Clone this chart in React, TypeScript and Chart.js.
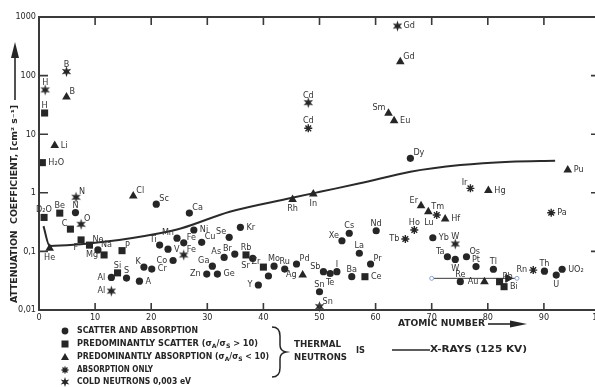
import React, { useEffect, useRef } from "react";
import { Chart, registerables } from "chart.js";

Chart.register(...registerables);

const FONT = '"DejaVu Sans Condensed", "Liberation Sans Narrow", "Liberation Sans", Arial, sans-serif';
const INK = "#262626";

// ---------- axis ticks ----------
const yTickValues = [0.01, 0.1, 1, 10, 100, 1000];
const yTickLabels = ["0,01", "0,1", "1", "10", "100", "1000"];
const innerTicksX = [10, 20, 30, 40, 50, 60, 70, 80, 90];
const innerTicksY = [0.1, 1, 10, 100];

// ---------- scatter and absorption (circles) ----------
const mixedLabels = ["N", "Na", "Al", "S", "A", "K", "Cr", "Sc", "Ca", "Ti", "V", "Co", "Mn", "Fe", "Ni", "Cu", "Zn", "Ga", "Ge", "As", "Se", "Br", "Kr", "Sr", "Y", "", "Mo", "Ru", "Pd", "Sn", "Sb", "Te", "I", "Xe", "Cs", "Ba", "La", "Pr", "Nd", "Dy", "Yb", "Ta", "W", "Os", "Pt", "Tl", "Re", "Th", "U", "UO₂"];
const mixedZ = [6.5, 10.5, 12.9, 15.6, 17.9, 18.7, 20.1, 20.9, 26.8, 21.5, 23.0, 23.9, 24.6, 25.8, 27.6, 29.0, 29.9, 30.9, 31.8, 33.0, 33.9, 34.9, 35.9, 38.1, 39.1, 40.9, 41.9, 43.8, 45.9, 50.0, 50.7, 51.9, 53.1, 54.0, 55.3, 55.75, 57.1, 59.1, 60.1, 66.2, 70.2, 72.8, 74.2, 76.2, 77.9, 81.0, 75.1, 90.1, 92.2, 93.25];
const mixedCoef = [0.46, 0.106, 0.036, 0.035, 0.031, 0.054, 0.05, 0.64, 0.45, 0.128, 0.109, 0.07, 0.168, 0.14, 0.232, 0.143, 0.041, 0.056, 0.041, 0.079, 0.174, 0.09, 0.258, 0.076, 0.0267, 0.038, 0.056, 0.05, 0.061, 0.0205, 0.045, 0.042, 0.045, 0.152, 0.204, 0.037, 0.093, 0.061, 0.225, 3.88, 0.171, 0.081, 0.073, 0.081, 0.055, 0.0496, 0.0304, 0.046, 0.0395, 0.0496];

// ---------- predominantly scatter (squares) ----------
const scatterLabels = ["H", "H₂O", "D₂O", "Be", "C", "F", "Ne", "Mg", "P", "Si", "Rb", "Zr", "Ce", "Pb", "Bi"];
const scatterZ = [1.0, 0.6, 0.9, 3.7, 5.6, 7.5, 9.0, 11.6, 14.8, 14.0, 36.9, 40.0, 58.1, 82.1, 82.9];
const scatterCoef = [23, 3.27, 0.38, 0.45, 0.24, 0.157, 0.128, 0.087, 0.103, 0.043, 0.087, 0.054, 0.037, 0.0304, 0.025];

// ---------- predominantly absorption (triangles) ----------
const absorbLabels = ["He", "Li", "B", "Cl", "Rh", "In", "Ag", "Sm", "Eu", "Gd", "Er", "Tm", "Hf", "Au", "Hg", "Pu"];
const absorbZ = [1.9, 2.8, 4.9, 16.8, 45.2, 48.9, 47.0, 62.3, 63.3, 64.4, 68.1, 69.4, 72.4, 79.4, 80.1, 94.25];
const absorbCoef = [0.113, 6.4, 43, 0.88, 0.77, 0.95, 0.0395, 22.8, 17, 173, 0.6, 0.475, 0.357, 0.0304, 1.09, 2.45];

// ---------- absorption only (asterisks) ----------
const onlyLabels = ["Cd", "Tb", "Ho", "Lu", "Ir", "Pa", "Rn"];
const onlyZ = [48.0, 65.3, 66.9, 70.9, 76.9, 91.3, 88.1];
const onlyCoef = [12.6, 0.163, 0.232, 0.418, 1.19, 0.457, 0.048];

// ---------- cold neutrons 0,003 eV (stars) ----------
const coldLabels = ["H", "B", "N", "O", "Al", "Fe", "Cd", "Gd", "Sn", "W"];
const coldZ = [1.1, 4.9, 6.6, 7.5, 12.9, 25.8, 48.0, 63.9, 50.0, 74.2];
const coldCoef = [57, 117, 0.84, 0.29, 0.021, 0.087, 34.5, 701, 0.0114, 0.134];

// ---------- X-rays (125 kV) curve ----------
const xrayZ = [0.8, 1.9, 12, 21.5, 25.4, 34, 44.7, 50.1, 57.2, 66.2, 75.1, 84, 92];
const xrayCoef = [0.27, 0.124, 0.147, 0.204, 0.248, 0.475, 0.805, 1.04, 1.45, 2.29, 2.98, 3.4, 3.53];

// ---------- thin arrow line near Pb/Bi ----------
const arrowZ = [70, 83.6, 85.2];
const arrowCoef = [0.0347, 0.0347, 0.0347];

// ---------- label placement (style only) ----------
const mixedPlace: Record<string, string> = { N: "n", Al: "w", S: "n", A: "e", K: "nw", Cr: "e", Ti: "nw", V: "e", Co: "w", Mn: "nw", Ni: "e", Zn: "w", Ga: "nw", Ge: "e", As: "nw", Se: "nw", Br: "nw", Kr: "e", Sr: "sw", Y: "w", Mo: "n", Ru: "n", Sn: "n", Sb: "nw", Te: "s", I: "n", Xe: "nw", Cs: "n", Ba: "n", La: "n", Nd: "n", Yb: "e", Ta: "nw", W: "s", Pt: "n", Tl: "n", Re: "n", Th: "n", U: "s", "UO₂": "e" };
const scatterPlace: Record<string, string> = { H: "n", "H₂O": "e", "D₂O": "n", Be: "n", C: "nw", F: "sw", Mg: "w", Si: "n", Rb: "n", Zr: "nw", Ce: "e", Bi: "e" };
const absorbPlace: Record<string, string> = { He: "s", Li: "e", Rh: "s", In: "s", Ag: "w", Sm: "nw", Eu: "e", Er: "nw", Hf: "e", Au: "w", Hg: "e", Pu: "e" };
const onlyPlace: Record<string, string> = { Cd: "n", Tb: "w", Ho: "n", Lu: "sw", Ir: "nw", Pa: "e", Rn: "w" };
const coldPlace: Record<string, string> = { H: "n", B: "n", Al: "w", Cd: "n", Gd: "e", W: "n" };

function drawStar(g: CanvasRenderingContext2D, cx: number, cy: number, r: number) {
  g.beginPath();
  for (let k = 0; k < 12; k++) {
    const a = -Math.PI / 2 + (k * Math.PI) / 6;
    const rr = k % 2 === 0 ? r : r * 0.42;
    g.lineTo(cx + rr * Math.cos(a), cy + rr * Math.sin(a));
  }
  g.closePath();
  g.fillStyle = INK;
  g.fill();
}

function makeStar(r: number): HTMLCanvasElement {
  const c = document.createElement("canvas");
  const s = Math.ceil(r * 2 + 2);
  c.width = s;
  c.height = s;
  drawStar(c.getContext("2d")!, s / 2, s / 2, r);
  return c;
}

function zip(xs: number[], ys: number[]) {
  return xs.map((x, i) => ({ x, y: ys[i] }));
}

type Seg = [string, boolean];
function drawRich(ctx: CanvasRenderingContext2D, segs: Seg[], x: number, y: number, width: number, size: number) {
  const big = `bold ${size}px ${FONT}`;
  const small = `bold ${Math.round(size * 0.7)}px ${FONT}`;
  let total = 0;
  const ws = segs.map(([t, sub]) => {
    ctx.font = sub ? small : big;
    const w = ctx.measureText(t).width;
    total += w;
    return w;
  });
  ctx.save();
  ctx.translate(x, y);
  ctx.scale(width / total, 1);
  ctx.textAlign = "left";
  ctx.textBaseline = "middle";
  let cx = 0;
  segs.forEach(([t, sub], i) => {
    ctx.font = sub ? small : big;
    ctx.fillText(t, cx, sub ? size * 0.3 : 0);
    cx += ws[i];
  });
  ctx.restore();
}

const labelSets = [
  { labels: mixedLabels, place: mixedPlace },
  { labels: scatterLabels, place: scatterPlace },
  { labels: absorbLabels, place: absorbPlace },
  { labels: onlyLabels, place: onlyPlace },
  { labels: coldLabels, place: coldPlace },
];

function drawFrame(chart: any) {
  const { ctx, chartArea: a, scales } = chart;
  const xs = scales.x;
  const ys = scales.y;
  ctx.save();
  ctx.strokeStyle = "#3a3a3a";
  ctx.lineWidth = 2;
  ctx.beginPath();
  ctx.moveTo(a.right, a.top);
  ctx.lineTo(a.left, a.top);
  ctx.lineTo(a.left, a.bottom);
  ctx.lineTo(a.right, a.bottom);
  ctx.lineTo(a.right, a.top);
  ctx.stroke();
  ctx.lineWidth = 1.6;
  ctx.beginPath();
  innerTicksX.forEach((v) => {
    const px = xs.getPixelForValue(v);
    ctx.moveTo(px, a.bottom);
    ctx.lineTo(px, a.bottom - 7);
    ctx.moveTo(px, a.top);
    ctx.lineTo(px, a.top + 8);
  });
  innerTicksY.forEach((v) => {
    const py = ys.getPixelForValue(v);
    ctx.moveTo(a.left, py);
    ctx.lineTo(a.left + 9, py);
    ctx.moveTo(a.right, py);
    ctx.lineTo(a.right - 9, py);
  });
  ctx.stroke();
  ctx.restore();
}

const annotate = {
  id: "annotate",
  afterDatasetsDraw(chart: any) {
    const { ctx } = chart;
    drawFrame(chart);
    ctx.save();
    ctx.fillStyle = "#333333";
    ctx.font = `9px ${FONT}`;
    labelSets.forEach((set, di) => {
      const meta = chart.getDatasetMeta(di);
      set.labels.forEach((lab, i) => {
        if (!lab) return;
        const el = meta.data[i];
        const p = set.place[lab] || "ne";
        let x = el.x;
        let y = el.y;
        let align: CanvasTextAlign = "left";
        let base: CanvasTextBaseline = "alphabetic";
        if (p === "ne") { x += 3; y -= 3; }
        else if (p === "nw") { x -= 3; y -= 3; align = "right"; }
        else if (p === "n") { y -= 5; align = "center"; }
        else if (p === "s") { y += 5; align = "center"; base = "top"; }
        else if (p === "e") { x += 6; base = "middle"; }
        else if (p === "w") { x -= 6; align = "right"; base = "middle"; }
        else if (p === "se") { x += 3; y += 3; base = "top"; }
        else if (p === "sw") { x -= 3; y += 3; align = "right"; base = "top"; }
        ctx.textAlign = align;
        ctx.textBaseline = base;
        ctx.fillText(lab, x, y);
      });
    });

    // y axis title with arrow
    ctx.fillStyle = INK;
    ctx.save();
    ctx.translate(15, 203);
    ctx.rotate(-Math.PI / 2);
    drawRich(ctx, [["ATTENUATION  COEFFICIENT, [cm² s⁻¹]", false]], -100, 0, 198, 8);
    ctx.restore();
    ctx.strokeStyle = INK;
    ctx.lineWidth = 1.6;
    ctx.beginPath();
    ctx.moveTo(15, 100);
    ctx.lineTo(15, 55);
    ctx.stroke();
    ctx.beginPath();
    ctx.moveTo(11, 58);
    ctx.lineTo(19, 58);
    ctx.lineTo(15, 42);
    ctx.closePath();
    ctx.fill();

    // x axis title with arrow
    drawRich(ctx, [["ATOMIC NUMBER", false]], 398, 324, 87, 8);
    ctx.beginPath();
    ctx.moveTo(488, 324);
    ctx.lineTo(514, 324);
    ctx.stroke();
    ctx.beginPath();
    ctx.moveTo(510, 320.5);
    ctx.lineTo(527, 324);
    ctx.lineTo(510, 327.5);
    ctx.closePath();
    ctx.fill();

    // legend symbols
    const sx = 65;
    ctx.beginPath();
    ctx.arc(sx, 331, 3.4, 0, Math.PI * 2);
    ctx.fill();
    ctx.fillRect(sx - 3.5, 340.5, 7, 7);
    ctx.beginPath();
    ctx.moveTo(sx - 4, 360);
    ctx.lineTo(sx + 4, 360);
    ctx.lineTo(sx, 353);
    ctx.closePath();
    ctx.fill();
    ctx.lineWidth = 1.3;
    ctx.beginPath();
    for (let k = 0; k < 4; k++) {
      const ang = (k * Math.PI) / 4;
      ctx.moveTo(sx - 3.5 * Math.cos(ang), 370 - 3.5 * Math.sin(ang));
      ctx.lineTo(sx + 3.5 * Math.cos(ang), 370 + 3.5 * Math.sin(ang));
    }
    ctx.stroke();
    drawStar(ctx, sx, 382, 5);

    // legend texts
    drawRich(ctx, [["SCATTER AND ABSORPTION", false]], 77, 331, 121, 8);
    drawRich(ctx, [["PREDOMINANTLY SCATTER (σ", false], ["A", true], ["/σ", false], ["S", true], [" > 10)", false]], 77, 344, 181, 8);
    drawRich(ctx, [["PREDOMINANTLY ABSORPTION (σ", false], ["A", true], ["/σ", false], ["S", true], [" < 10)", false]], 77, 357, 192, 8);
    drawRich(ctx, [["ABSORPTION ONLY", false]], 77, 370, 76, 8);
    drawRich(ctx, [["COLD NEUTRONS 0,003 eV", false]], 77, 382, 114, 8);

    // brace
    ctx.lineWidth = 1.5;
    ctx.beginPath();
    ctx.moveTo(272, 327);
    ctx.quadraticCurveTo(280, 327, 280, 336);
    ctx.lineTo(280, 345);
    ctx.quadraticCurveTo(280, 351, 286, 352);
    ctx.quadraticCurveTo(280, 353, 280, 359);
    ctx.lineTo(280, 368);
    ctx.quadraticCurveTo(280, 377, 272, 377);
    ctx.stroke();

    drawRich(ctx, [["THERMAL", false]], 294, 345, 47, 8);
    drawRich(ctx, [["NEUTRONS", false]], 294, 358, 53, 8);
    drawRich(ctx, [["IS", false]], 356, 351, 9, 8);
    ctx.lineWidth = 1.5;
    ctx.beginPath();
    ctx.moveTo(392, 350);
    ctx.lineTo(430, 350);
    ctx.stroke();
    drawRich(ctx, [["X-RAYS (125 KV)", false]], 430, 350, 97, 8);
    ctx.restore();
  },
};

export default function App() {
  const ref = useRef<HTMLCanvasElement>(null);
  useEffect(() => {
    const star = makeStar(5.5);
    const common = { backgroundColor: INK, borderColor: INK, clip: false as const };
    const chart = new Chart(ref.current!, {
      type: "scatter",
      data: {
        datasets: [
          { ...common, data: zip(mixedZ, mixedCoef), pointStyle: "circle", pointRadius: 3.6, borderWidth: 0 },
          { ...common, data: zip(scatterZ, scatterCoef), pointStyle: "rect", pointRadius: 5, borderWidth: 0 },
          { ...common, data: zip(absorbZ, absorbCoef), pointStyle: "triangle", pointRadius: 5, borderWidth: 0 },
          { ...common, data: zip(onlyZ, onlyCoef), pointStyle: "star", pointRadius: 4, borderWidth: 1.4 },
          { ...common, data: zip(coldZ, coldCoef), pointStyle: star as any, pointRadius: 5.5 },
          {
            type: "line",
            data: zip(xrayZ, xrayCoef),
            borderColor: "#2a2a2a",
            borderWidth: 2,
            pointRadius: 0,
            cubicInterpolationMode: "monotone",
            fill: false,
          } as any,
          {
            type: "line",
            data: zip(arrowZ, arrowCoef),
            borderColor: "#3a3a3a",
            borderWidth: 1,
            pointStyle: ["circle", "triangle", "circle"],
            rotation: [0, 90, 0],
            pointRadius: [2, 4.5, 2],
            pointBackgroundColor: ["#ffffff", INK, "#ffffff"],
            pointBorderColor: ["#8aa6d6", INK, "#8aa6d6"],
            pointBorderWidth: 1,
            fill: false,
          } as any,
        ],
      },
      options: {
        responsive: false,
        animation: false,
        devicePixelRatio: 1,
        layout: { padding: { left: 0, right: 12, top: 17, bottom: 0 } },
        plugins: { legend: { display: false }, tooltip: { enabled: false } },
        scales: {
          x: {
            type: "linear",
            min: 0,
            max: 100,
            ticks: { stepSize: 10, autoSkip: false, maxRotation: 0, padding: 2, color: INK, font: { size: 9, family: FONT } },
            grid: { display: false, drawTicks: false },
            border: { display: false },
            afterFit: (s: any) => { s.height = 77; },
          },
          y: {
            type: "logarithmic",
            min: 0.01,
            max: 1000,
            afterBuildTicks: (s: any) => { s.ticks = yTickValues.map((v) => ({ value: v })); },
            ticks: {
              autoSkip: false,
              padding: 3,
              color: INK,
              font: { size: 9, family: FONT },
              callback: (_v: any, i: number) => yTickLabels[i],
            },
            grid: { display: false, drawTicks: false },
            border: { display: false },
            afterFit: (s: any) => { s.width = 39; },
          },
        },
      },
      plugins: [annotate],
    } as any);
    return () => chart.destroy();
  }, []);
  return (
    <div style={{ position: "fixed", left: 0, top: 0, width: 595, height: 387, overflow: "hidden", background: "#fff" }}>
      <canvas ref={ref} width={612} height={387} style={{ display: "block", width: 612, height: 387 }} />
    </div>
  );
}
